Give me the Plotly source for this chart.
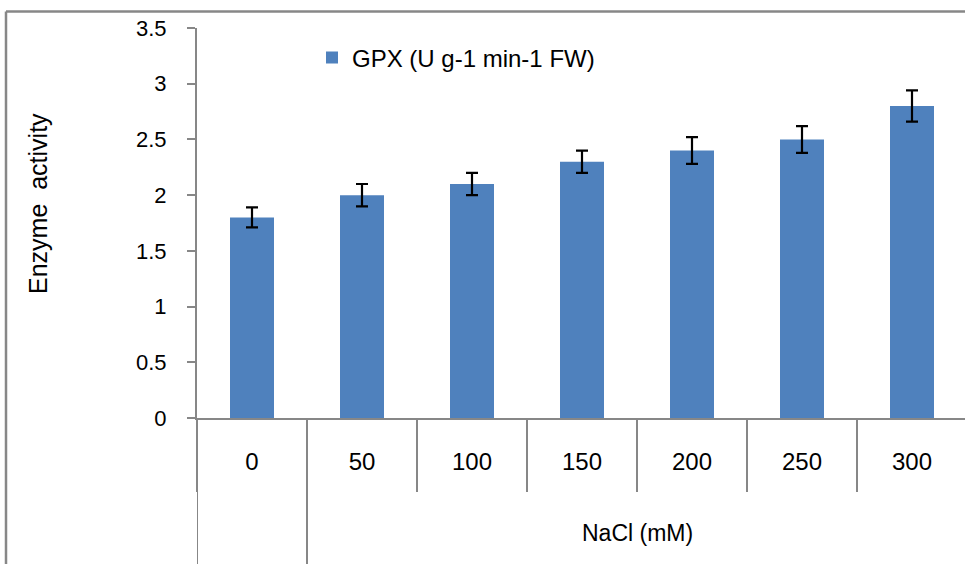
import plotly.graph_objects as go

categories = ["0", "50", "100", "150", "200", "250", "300"]
gpx_values = [1.8, 2.0, 2.1, 2.3, 2.4, 2.5, 2.8]
gpx_errors = [0.09, 0.1, 0.1, 0.1, 0.12, 0.12, 0.14]
y_ticks = [0, 0.5, 1, 1.5, 2, 2.5, 3, 3.5]
y_tick_labels = ["0", "0.5", "1", "1.5", "2", "2.5", "3", "3.5"]
series_name = "GPX (U g-1 min-1 FW)"
x_group_label = "NaCl (mM)"
y_title = "Enzyme  activity"

FONT = "Liberation Sans, Arial, sans-serif"
GRAY = "#878787"

W, H = 965, 564
ML, MR, MT, MB = 197, 0, 28, 146
plot_w = W - ML - MR
plot_h = H - MT - MB

def px_to_paper_x(px):
    return (px - ML) / plot_w

def px_to_paper_y(py):
    return (H - MB - py) / plot_h

fig = go.Figure()
fig.add_trace(go.Bar(
    x=categories,
    y=gpx_values,
    name=series_name,
    marker=dict(color="#4F81BD", line=dict(width=0)),
    error_y=dict(type="data", array=gpx_errors, visible=True,
                 color="#000000", thickness=2.2, width=6),
    showlegend=True,
))

x_range = [-0.5, -0.5 + plot_w / 110.0]

shapes = []
# group dividers extending to the bottom
for xv in [-0.5, 0.5]:
    shapes.append(dict(type="line", xref="x", yref="paper",
                       x0=xv, x1=xv, y0=0, y1=px_to_paper_y(H + 5),
                       line=dict(color=GRAY, width=2)))
# outer frame (top and left)
shapes.append(dict(type="line", xref="paper", yref="paper",
                   x0=px_to_paper_x(6), x1=px_to_paper_x(W + 10),
                   y0=px_to_paper_y(11.5), y1=px_to_paper_y(11.5),
                   line=dict(color=GRAY, width=2.5)))
shapes.append(dict(type="line", xref="paper", yref="paper",
                   x0=px_to_paper_x(6), x1=px_to_paper_x(6),
                   y0=px_to_paper_y(11.5), y1=px_to_paper_y(H + 5),
                   line=dict(color=GRAY, width=2.5)))

annotations = [
    dict(text=x_group_label, xref="x", yref="paper", x=3.5,
         y=px_to_paper_y(533), showarrow=False,
         font=dict(family=FONT, size=23, color="#000000"),
         xanchor="center", yanchor="middle"),
    dict(text=y_title, xref="paper", yref="paper", x=px_to_paper_x(38),
         y=px_to_paper_y(204), showarrow=False, textangle=-90,
         font=dict(family=FONT, size=25, color="#000000"),
         xanchor="center", yanchor="middle"),
]

fig.update_layout(
    width=W, height=H,
    margin=dict(l=ML, r=MR, t=MT, b=MB, pad=0),
    paper_bgcolor="white", plot_bgcolor="white",
    bargap=0.6,
    font=dict(family=FONT, color="#000000"),
    shapes=shapes,
    annotations=annotations,
    legend=dict(x=px_to_paper_x(312), y=px_to_paper_y(58),
                xanchor="left", yanchor="middle",
                font=dict(family=FONT, size=24, color="#000000"),
                bgcolor="rgba(0,0,0,0)"),
    xaxis=dict(
        type="category", range=x_range,
        showline=True, linecolor=GRAY, linewidth=2,
        ticks="outside", tickson="boundaries", ticklen=72,
        tickcolor=GRAY, tickwidth=2,
        ticklabelstandoff=21,
        tickfont=dict(family=FONT, size=24, color="#000000"),
        showgrid=False, zeroline=False,
    ),
    yaxis=dict(
        range=[0, 3.5],
        tickvals=y_ticks, ticktext=y_tick_labels,
        showline=True, linecolor=GRAY, linewidth=2,
        ticks="outside", ticklen=8, tickcolor=GRAY, tickwidth=2,
        ticklabelstandoff=16,
        tickfont=dict(family=FONT, size=22, color="#000000"),
        showgrid=False, zeroline=False,
    ),
)

fig.write_html(
    "out.html",
    config={"displayModeBar": False},
    post_script="document.body.style.margin='0';document.body.style.overflow='hidden';",
)
